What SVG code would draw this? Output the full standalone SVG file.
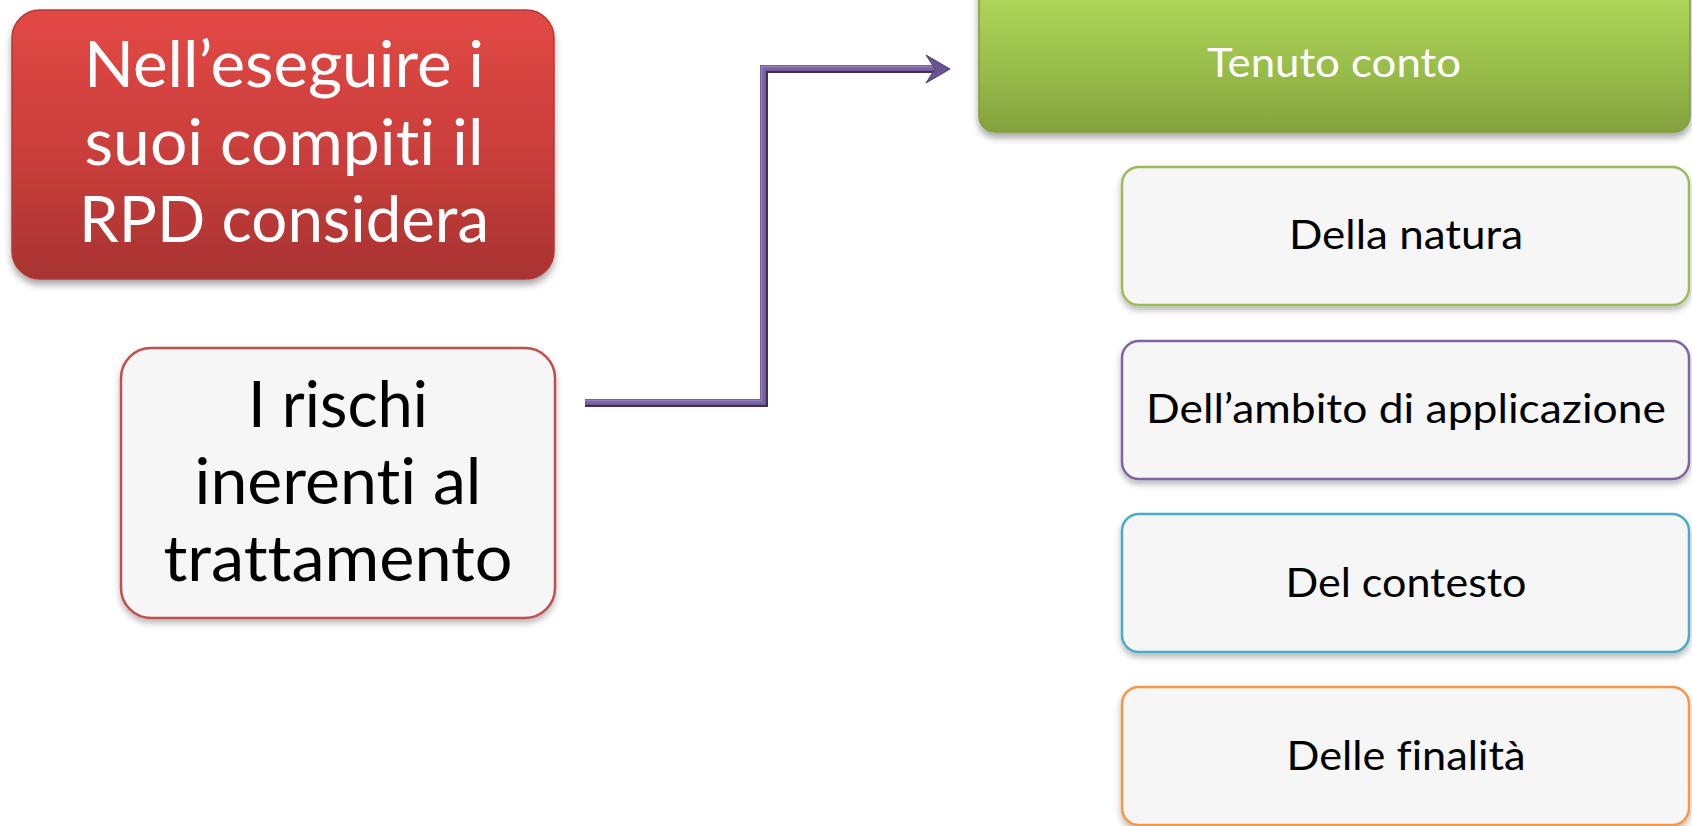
<svg xmlns="http://www.w3.org/2000/svg" width="1692" height="826" viewBox="0 0 1692 826">
<defs>
<linearGradient id="gRed" x1="0" y1="0" x2="0" y2="1">
<stop offset="0" stop-color="#e24845"/>
<stop offset="0.55" stop-color="#c93e3b"/>
<stop offset="1" stop-color="#a83331"/>
</linearGradient>
<linearGradient id="gGreen" x1="0" y1="0" x2="0" y2="1">
<stop offset="0" stop-color="#b4dc5c"/>
<stop offset="0.6" stop-color="#98bc4a"/>
<stop offset="1" stop-color="#84a23e"/>
</linearGradient>
<filter id="sh" x="-10%" y="-10%" width="120%" height="130%">
<feDropShadow dx="0" dy="5" stdDeviation="3.5" flood-color="#000" flood-opacity="0.35"/>
</filter>
<filter id="shL" x="-10%" y="-10%" width="120%" height="130%">
<feDropShadow dx="0" dy="4" stdDeviation="3" flood-color="#000" flood-opacity="0.28"/>
</filter>
</defs>
<style>
.t{font-family:Lato,"Liberation Sans",sans-serif;text-anchor:middle;font-variant-ligatures:none;font-feature-settings:"liga" 0,"clig" 0}
.w{fill:#ffffff}
.b{fill:#000000}
.big{font-size:64px}
.sm{font-size:41px}
.box{fill:#f6f6f6;stroke-width:2.5}
</style>
<rect width="1692" height="826" fill="#ffffff"/>

<g id="node-rpd">
<rect x="12" y="10" width="542" height="269" rx="28" fill="url(#gRed)" stroke="#b23835" stroke-width="1.5" filter="url(#sh)"/>
<text class="t w big" x="284" y="87" textLength="400" lengthAdjust="spacingAndGlyphs">Nell’eseguire i</text>
<text class="t w big" x="284" y="165" textLength="399" lengthAdjust="spacingAndGlyphs">suoi compiti il</text>
<text class="t w big" x="284" y="242" textLength="410" lengthAdjust="spacingAndGlyphs">RPD considera</text>
</g>

<g id="node-rischi">
<rect x="121" y="348" width="434" height="270" rx="30" class="box" stroke="#c0504d" filter="url(#shL)"/>
<text class="t b big" x="338" y="427" textLength="180" lengthAdjust="spacingAndGlyphs">I rischi</text>
<text class="t b big" x="338" y="504" textLength="287" lengthAdjust="spacingAndGlyphs">inerenti al</text>
<text class="t b big" x="338" y="581" textLength="349" lengthAdjust="spacingAndGlyphs">trattamento</text>
</g>

<g id="node-tenuto">
<rect x="979" y="-20" width="711" height="152" rx="16" fill="url(#gGreen)" stroke="#7f9c3c" stroke-width="1.5" filter="url(#sh)"/>
<text class="t w sm" x="1334" y="77" textLength="254" lengthAdjust="spacingAndGlyphs">Tenuto conto</text>
</g>

<g id="node-natura">
<rect x="1122" y="167" width="567" height="138" rx="17" class="box" stroke="#9bbb59" filter="url(#shL)"/>
<text class="t b sm" x="1406" y="249" textLength="234" lengthAdjust="spacingAndGlyphs">Della natura</text>
</g>

<g id="node-ambito">
<rect x="1122" y="341" width="567" height="138" rx="17" class="box" stroke="#8064a2" filter="url(#shL)"/>
<text class="t b sm" x="1406" y="423" textLength="520" lengthAdjust="spacingAndGlyphs">Dell’ambito di applicazione</text>
</g>

<g id="node-contesto">
<rect x="1122" y="514" width="567" height="138" rx="17" class="box" stroke="#4bacc6" filter="url(#shL)"/>
<text class="t b sm" x="1406" y="597" textLength="241" lengthAdjust="spacingAndGlyphs">Del contesto</text>
</g>

<g id="node-finalita">
<rect x="1122" y="687" width="567" height="138" rx="17" class="box" stroke="#f79646" filter="url(#shL)"/>
<text class="t b sm" x="1406" y="770" textLength="239" lengthAdjust="spacingAndGlyphs">Delle finalità</text>
</g>

<g id="connectors">
<path d="M585 403 H764 V69 H936" fill="none" stroke="#3f3158" stroke-width="8" stroke-linejoin="miter"/>
<path d="M585 402 H763 V68 H936" fill="none" stroke="#7a62a3" stroke-width="5.5" stroke-linejoin="miter"/>
<path d="M585 400.5 H761.5 V66.5 H934" fill="none" stroke="#9680bd" stroke-width="1.5"/>
<polygon points="950,69 926,55 935,69 926,83" fill="#6a5393" stroke="#4f3c6e" stroke-width="1"/>
</g>
</svg>
